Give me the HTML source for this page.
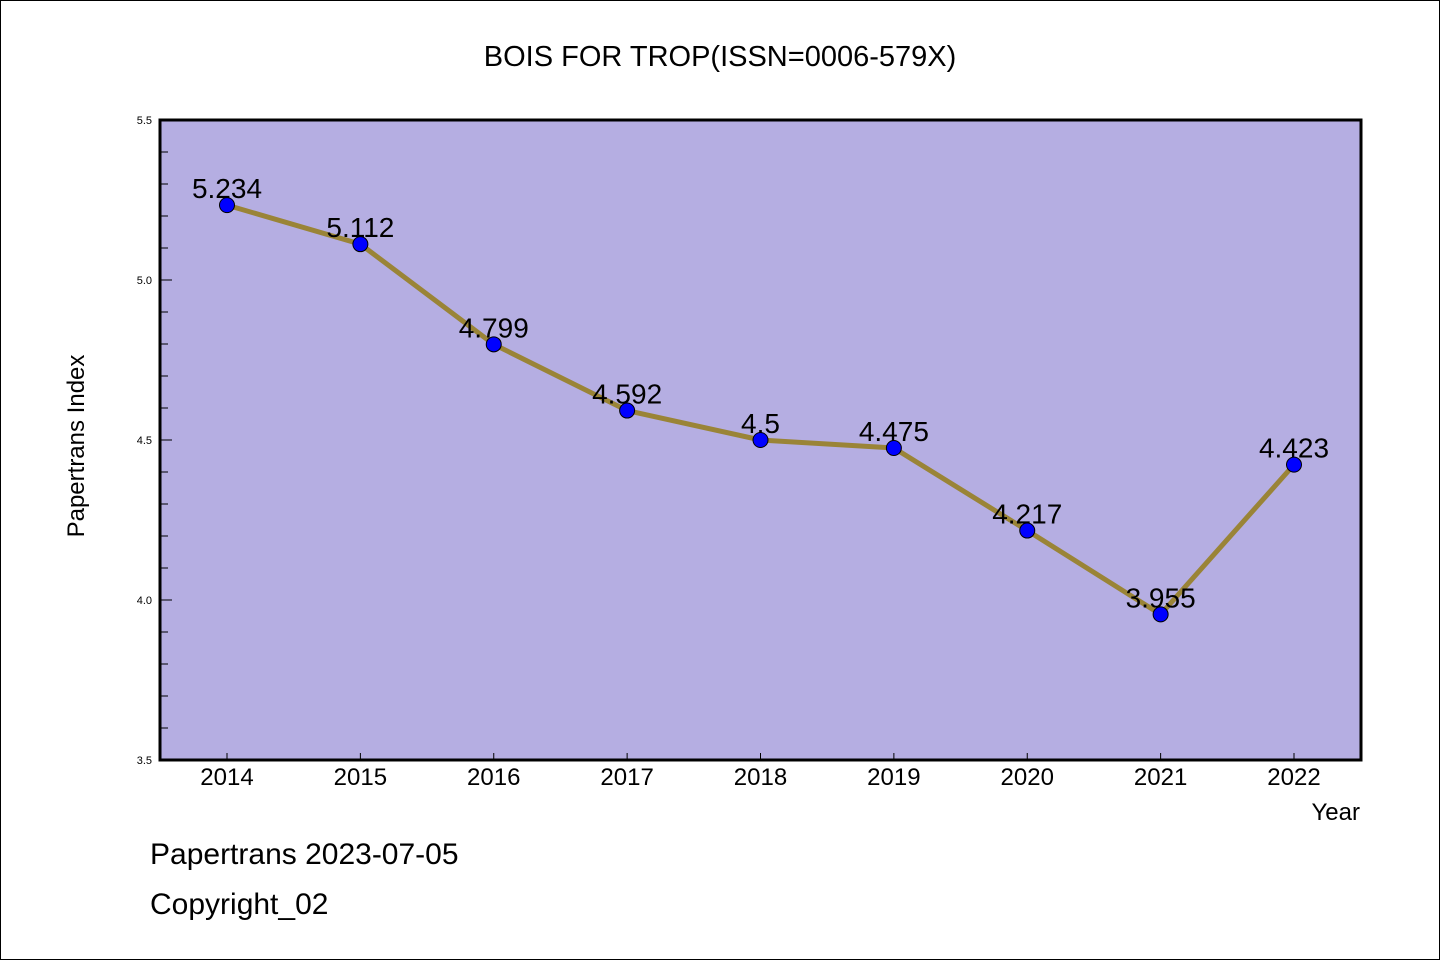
<!DOCTYPE html>
<html><head><meta charset="utf-8"><style>
body{margin:0;background:#fff;}
svg{display:block;font-family:"WenQuanYi Zen Hei","Liberation Sans",sans-serif;}
</style></head><body>
<svg id="chart" width="1440" height="960" xmlns="http://www.w3.org/2000/svg">
<rect x="0.5" y="0.5" width="1439" height="959" fill="#fff" stroke="#000" stroke-width="1"/>
<text x="720" y="66" font-size="29" text-anchor="middle">BOIS FOR TROP(ISSN=0006-579X)</text>
<rect x="160" y="120" width="1201" height="640" fill="#b5aee2"/>
<g id="yaxis"></g>
<g id="xaxis"></g>
<g id="series"></g>
<rect x="160" y="120" width="1201" height="640" fill="none" stroke="#000" stroke-width="3"/>
<text transform="translate(84,446) rotate(-90)" font-size="24" text-anchor="middle">Papertrans Index</text>
<text x="1360" y="820" font-size="24" text-anchor="end">Year</text>
<text x="150" y="864" font-size="30">Papertrans 2023-07-05</text>
<text x="150" y="914" font-size="30">Copyright_02</text>
</svg>
<script>
const categories = ["2014","2015","2016","2017","2018","2019","2020","2021","2022"];
const values = [5.234,5.112,4.799,4.592,4.5,4.475,4.217,3.955,4.423];
const valueLabels = ["5.234","5.112","4.799","4.592","4.5","4.475","4.217","3.955","4.423"];
const yTicks = ["3.5","4.0","4.5","5.0","5.5"];
const yMin = 3.5, yMax = 5.5;
const NS = "http://www.w3.org/2000/svg";
function y(v){return 760 - (v - yMin) / (yMax - yMin) * 640;}
function x(i){return 227 + i * (1294 - 227) / (categories.length - 1);}
function mk(tag, attrs, parent){const e=document.createElementNS(NS,tag);for(const k in attrs)e.setAttribute(k,attrs[k]);parent.appendChild(e);return e;}
const ya = document.getElementById('yaxis');
for (let k = 0; k <= 20; k++) {
  const v = yMin + k * 0.1;
  const major = k % 5 === 0;
  const t = mk('line', {x1:160, x2:major?172:168, y1:y(v), y2:y(v), stroke:'#000', 'stroke-width':1}, ya);
  
  
}
yTicks.forEach(s => {
  const t = mk('text', {x:152, y:y(parseFloat(s))+4, 'font-size':11, 'text-anchor':'end'}, ya);
  t.textContent = s;
  
  
});
const xa = document.getElementById('xaxis');
categories.forEach((c, i) => {
  const t = mk('line', {x1:x(i), x2:x(i), y1:760, y2:753, stroke:'#000', 'stroke-width':1}, xa);
  
  
  const l = mk('text', {x:x(i), y:785, 'font-size':24, 'text-anchor':'middle'}, xa);
  l.textContent = c;
  
  
});
const sg = document.getElementById('series');
const pl = mk('polyline', {points: values.map((v,i)=>x(i)+','+y(v)).join(' '), fill:'none', stroke:'#9a8437', 'stroke-width':5}, sg);


values.forEach((v, i) => {
  const c = mk('circle', {cx:x(i), cy:y(v), r:7.5, fill:'#0000ff', stroke:'#000', 'stroke-width':1}, sg);
  
  
  const l = mk('text', {x:x(i), y:y(v)-7, 'font-size':28, 'text-anchor':'middle'}, sg);
  l.textContent = valueLabels[i];
  
  
});
</script>
</body></html>
